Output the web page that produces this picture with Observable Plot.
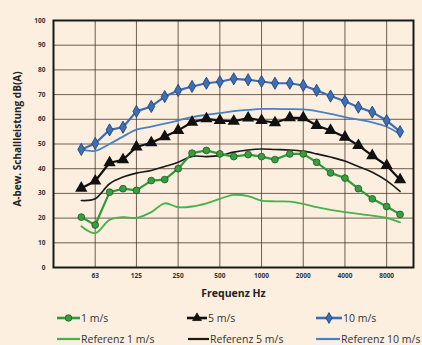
<!DOCTYPE html>
<html>
<head>
<meta charset="utf-8">
<script src="https://cdn.jsdelivr.net/npm/d3@7"></script>
<script src="https://cdn.jsdelivr.net/npm/@observablehq/plot@0.6"></script>
<style>
  html, body { margin: 0; padding: 0; background: #fcefdf; }
  #wrap { position: relative; width: 422px; height: 345px; overflow: hidden; font-family: "Open Sans", "Liberation Sans", sans-serif; }
  #legend { position: absolute; left: 0; top: 303px; }
</style>
</head>
<body>
<div id="wrap"><div id="chart"></div><svg id="legend" width="422" height="42"></svg></div>
<script>
// Third-octave band centre frequencies (Hz)
const freqs = [50, 63, 80, 100, 125, 160, 200, 250, 315, 400, 500, 630, 800, 1000, 1250, 1600, 2000, 2500, 3150, 4000, 5000, 6300, 8000, 10000];
// Measured A-weighted sound power, dB(A)
const wind1  = [20.4, 17.2, 30.5, 31.9, 31.2, 35.2, 35.6, 40.0, 46.3, 47.4, 46.0, 44.9, 45.7, 44.9, 43.7, 46.0, 46.0, 42.6, 38.3, 36.2, 31.9, 27.8, 24.7, 21.5];
const wind5  = [32.1, 35.0, 42.4, 43.6, 48.8, 50.5, 53.0, 55.5, 58.8, 60.2, 59.5, 59.2, 60.5, 59.5, 58.6, 60.6, 60.6, 57.5, 55.5, 52.8, 49.4, 45.3, 41.3, 35.5];
const wind10 = [47.8, 50.2, 55.7, 56.8, 63.2, 65.2, 69.2, 71.7, 73.3, 74.6, 75.2, 76.4, 76.0, 75.3, 74.6, 74.6, 73.7, 71.7, 69.4, 67.3, 64.9, 62.9, 59.5, 55.0];
// Reference curves
const ref1  = [16.7, 13.9, 19.3, 20.4, 20.1, 22.4, 26.0, 24.4, 24.7, 26.0, 27.8, 29.4, 28.9, 27.1, 26.8, 26.7, 25.8, 24.4, 23.3, 22.4, 21.7, 21.0, 20.1, 18.3];
const ref5  = [27.1, 27.8, 33.9, 36.6, 38.2, 39.3, 40.9, 42.6, 45.0, 44.9, 45.3, 46.7, 47.6, 48.0, 47.8, 47.6, 47.1, 46.0, 44.7, 43.1, 40.9, 38.6, 35.2, 30.8];
const ref10 = [47.8, 47.2, 50.0, 53.0, 55.8, 57.0, 58.2, 59.5, 60.9, 61.8, 62.5, 63.3, 63.8, 64.2, 64.2, 64.1, 64.0, 63.3, 62.2, 60.9, 59.9, 58.8, 57.0, 54.0];

const xTicks = [63, 125, 250, 500, 1000, 2000, 4000, 8000];
const xTickLabels = ["63", "125", "250", "500", "1000", "2000", "4000", "8000"];
const yTicks = [0, 10, 20, 30, 40, 50, 60, 70, 80, 90, 100];
const xTitle = "Frequenz Hz";
const yTitle = "A-bew. Schallleistung dB(A)";
const seriesNames = ["1 m/s", "5 m/s", "10 m/s"];
const refNames = ["Referenz 1 m/s", "Referenz 5 m/s", "Referenz 10 m/s"];

const green = "#2f9a3a", black = "#111111", blue = "#3a6db3";
const greenRef = "#47b24a", blackRef = "#1a1a1a", blueRef = "#4a80c4";

const rows = (vals) => freqs.map((f, i) => ({f, v: vals[i]}));
const xTickRows = xTicks.map((f, i) => ({f, label: xTickLabels[i]}));

const chart = Plot.plot({
  width: 422,
  height: 345,
  marginTop: 20,
  marginLeft: 53,
  marginRight: 9,
  marginBottom: 78,
  style: {background: "transparent", fontFamily: "'Open Sans', 'Liberation Sans', sans-serif", color: "#222"},
  x: {type: "log", domain: [31.5, 12500], axis: null},
  y: {domain: [0, 100], axis: null},
  marks: [
    Plot.gridX(xTicks, {stroke: "#4a3a2c", strokeOpacity: 0.8, strokeWidth: 1}),
    Plot.gridY(yTicks, {stroke: "#4a3a2c", strokeOpacity: 0.8, strokeWidth: 1}),
    Plot.text(xTickRows, {x: "f", text: "label", frameAnchor: "bottom", dy: 10, fontSize: 6.5, fontWeight: "bold", fill: "#333"}),
    Plot.axisY(yTicks, {tickSize: 0, tickPadding: 8, fontSize: 6.5, fontWeight: "bold", fill: "#333", label: null, tickFormat: d => String(d)}),
    Plot.line(rows(ref1), {x: "f", y: "v", stroke: greenRef, strokeWidth: 1.8, curve: "catmull-rom"}),
    Plot.line(rows(ref5), {x: "f", y: "v", stroke: blackRef, strokeWidth: 1.6, curve: "catmull-rom"}),
    Plot.line(rows(ref10), {x: "f", y: "v", stroke: blueRef, strokeWidth: 1.8, curve: "catmull-rom"}),
    Plot.line(rows(wind1), {x: "f", y: "v", stroke: green, strokeWidth: 2.2}),
    Plot.dot(rows(wind1), {x: "f", y: "v", r: 3.4, fill: "#3a9d3f", stroke: "#1d5a22", strokeWidth: 0.8}),
    Plot.line(rows(wind5), {x: "f", y: "v", stroke: black, strokeWidth: 2.2}),
    Plot.dot(rows(wind5), {x: "f", y: "v", r: 3.6, symbol: "triangle", fill: black, stroke: black}),
    Plot.line(rows(wind10), {x: "f", y: "v", stroke: blue, strokeWidth: 2.2}),
    Plot.dot(rows(wind10), {x: "f", y: "v", r: 3.7, symbol: "diamond", fill: "#3c6fb6", stroke: "#1d3c6a", strokeWidth: 0.8}),
    Plot.frame({stroke: "#1a1a1a", strokeWidth: 2}),
    Plot.text([xTitle], {text: d => d, frameAnchor: "bottom", dy: 29, fontSize: 10.5, fontWeight: "bold", fill: "#222"}),
    Plot.text([yTitle], {text: d => d, frameAnchor: "left", textAnchor: "middle", dx: -36, dy: -5, rotate: -90, fontSize: 10, fontWeight: "bold", fill: "#222"})
  ]
});
document.getElementById("chart").appendChild(chart);

// Legend
const lg = d3.select("#legend");
const items = [
  {name: seriesNames[0], x0: 57, x1: 80, y: 15, stroke: green, w: 2.6, sym: d3.symbolCircle, size: 34, fill: "#3a9d3f", sstroke: "#1d5a22"},
  {name: seriesNames[1], x0: 187, x1: 207, y: 15, stroke: black, w: 2.6, sym: d3.symbolTriangle, size: 34, fill: black, sstroke: black},
  {name: seriesNames[2], x0: 316, x1: 342, y: 15, stroke: blue, w: 2.6, sym: d3.symbolDiamond, size: 34, fill: "#3c6fb6", sstroke: "#1d3c6a"},
  {name: refNames[0], x0: 57, x1: 80, y: 36, stroke: greenRef, w: 2.2},
  {name: refNames[1], x0: 188, x1: 209, y: 36, stroke: blackRef, w: 2.2},
  {name: refNames[2], x0: 316, x1: 340, y: 36, stroke: blueRef, w: 2.2}
];
for (const it of items) {
  lg.append("line").attr("x1", it.x0).attr("x2", it.x1).attr("y1", it.y).attr("y2", it.y)
    .attr("stroke", it.stroke).attr("stroke-width", it.w);
  if (it.sym) {
    lg.append("path").attr("d", d3.symbol(it.sym, it.size)())
      .attr("transform", `translate(${(it.x0 + it.x1) / 2},${it.y})`)
      .attr("fill", it.fill).attr("stroke", it.sstroke).attr("stroke-width", 0.8);
  }
  lg.append("text").attr("x", it.x1 + 1).attr("y", it.y).attr("dy", "0.35em")
    .attr("font-size", 10.5).attr("fill", "#333")
    .attr("font-family", "'Open Sans', 'Liberation Sans', sans-serif")
    .text(it.name);
}
</script>
</body>
</html>
